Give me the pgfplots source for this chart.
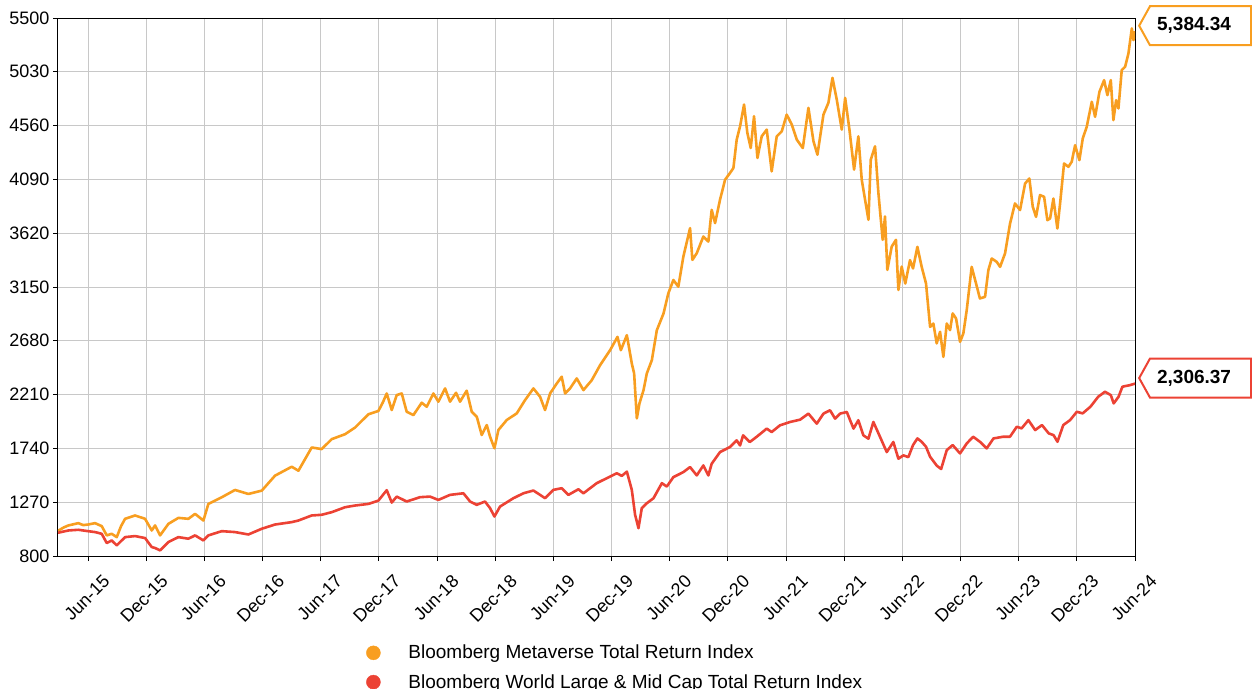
\documentclass[border=0pt]{standalone}
\usepackage{fontspec}
\setmainfont{Liberation Sans}
\usepackage{pgfplots}
\pgfplotsset{compat=1.18}
\usetikzlibrary{shapes.symbols}
\definecolor{mvorange}{RGB}{248,158,32}
\definecolor{wred}{RGB}{236,66,52}
\definecolor{gridc}{RGB}{200,200,200}
\begin{document}
\begin{tikzpicture}
\begin{axis}[
 at={(0pt,0pt)}, anchor=south west,
 scale only axis, width=1077pt, height=538pt,
 xmin=-3.1, xmax=108, ymin=800, ymax=5500,
 xtick={0,6,...,108},
 xticklabels={Jun-15,Dec-15,Jun-16,Dec-16,Jun-17,Dec-17,Jun-18,Dec-18,Jun-19,Dec-19,Jun-20,Dec-20,Jun-21,Dec-21,Jun-22,Dec-22,Jun-23,Dec-23,Jun-24},
 ytick={800,1270,1740,2210,2680,3150,3620,4090,4560,5030,5500},
 scaled y ticks=false,
 tick pos=left, tick align=outside, major tick length=5pt,
 tick style={black, line width=1pt},
 axis line style={black, line width=1pt},
 grid=major, major grid style={gridc, line width=1pt},
 ticklabel style={font=\fontsize{18}{21}\selectfont},
 /pgf/number format/assume math mode=true,
 yticklabel style={/pgf/number format/1000 sep={}},
 xticklabel style={xshift=14pt, yshift=-8pt, rotate=45, anchor=north east},
 clip mode=individual,
 legend style={at={(axis description cs:0,0)}, anchor=north west, xshift=308pt, yshift=-87pt, draw=none, fill=none, inner sep=0pt, font=\fontsize{19}{22}\selectfont, row sep=10pt},
 legend cell align=left,
]
\addplot[forget plot, mvorange, line width=2.6pt, line join=round] coordinates {
(-3.1,1020)(-2.5,1050)(-2.03,1067)(-1.0,1087)(-0.5,1070)(0,1075)(0.72,1087)(1.41,1061)(1.93,980)(2.44,994)(2.96,965)(3.4,1060)(3.82,1125)(4.85,1154)(5.88,1125)(6.57,1023)(6.91,1067)(7.43,980)(8.29,1081)(9.32,1133)(10.35,1125)(11.04,1168)(11.9,1110)(12.41,1255)(13.79,1313)(15.16,1377)(16.54,1342)(17.92,1371)(19.29,1502)(21.01,1580)(21.7,1545)(23.07,1748)(24.1,1734)(25.14,1821)(26.51,1864)(27.54,1922)(28.92,2038)(29.95,2067)(30.4,2140)(30.81,2220)(31.33,2075)(31.84,2206)(32.36,2220)(32.87,2060)(33.56,2031)(34.42,2139)(34.94,2104)(35.62,2220)(36.14,2148)(36.83,2264)(37.34,2148)(37.96,2226)(38.37,2148)(39.06,2244)(39.58,2060)(40.1,2017)(40.61,1857)(41.13,1944)(41.47,1842)(41.92,1741)(42.33,1901)(43.19,1988)(44.22,2046)(45.08,2162)(45.94,2264)(46.63,2191)(47.14,2075)(47.66,2220)(48.35,2307)(48.86,2366)(49.21,2220)(49.72,2264)(50.41,2351)(51.1,2249)(51.96,2336)(52.82,2467)(53.85,2598)(54.61,2714)(54.96,2598)(55.58,2729)(56.09,2482)(56.33,2395)(56.61,2002)(56.88,2133)(57.3,2249)(57.64,2395)(58.16,2511)(58.67,2772)(59.36,2918)(59.86,3095)(60.38,3211)(60.89,3153)(61.41,3416)(62.1,3664)(62.34,3387)(62.79,3445)(63.47,3591)(63.99,3547)(64.33,3824)(64.68,3708)(65.19,3912)(65.71,4087)(66.22,4146)(66.57,4189)(66.91,4437)(67.26,4554)(67.67,4744)(68.01,4496)(68.36,4364)(68.7,4642)(69.05,4277)(69.49,4466)(70.01,4525)(70.52,4160)(71.04,4466)(71.56,4510)(72.07,4656)(72.59,4569)(73.11,4437)(73.73,4364)(74.31,4715)(74.83,4423)(75.24,4306)(75.86,4656)(76.37,4759)(76.79,4977)(77.23,4788)(77.75,4525)(78.1,4802)(78.54,4525)(79.02,4175)(79.46,4466)(79.81,4087)(80.5,3737)(80.74,4262)(81.18,4379)(81.53,3970)(81.97,3562)(82.21,3766)(82.45,3299)(82.9,3503)(83.34,3562)(83.59,3124)(83.93,3328)(84.3,3180)(84.79,3385)(85.1,3312)(85.55,3501)(85.99,3327)(86.44,3181)(86.86,2802)(87.2,2831)(87.54,2657)(87.89,2759)(88.23,2540)(88.58,2831)(88.92,2773)(89.19,2919)(89.54,2875)(89.95,2671)(90.29,2744)(90.64,2948)(91.15,3326)(91.6,3181)(92.0,3050)(92.53,3064)(92.87,3297)(93.22,3399)(93.73,3370)(94.08,3326)(94.59,3443)(95.11,3705)(95.62,3880)(96.14,3822)(96.66,4054)(97.1,4098)(97.45,3851)(97.79,3763)(98.2,3953)(98.62,3938)(98.96,3734)(99.24,3749)(99.58,3923)(99.99,3661)(100.27,3880)(100.68,4229)(101.13,4200)(101.47,4244)(101.82,4389)(102.26,4258)(102.61,4448)(103.02,4550)(103.54,4768)(103.88,4637)(104.33,4855)(104.81,4957)(105.15,4826)(105.5,4957)(105.77,4608)(106.05,4782)(106.29,4710)(106.63,5045)(106.98,5074)(107.32,5190)(107.67,5409)(107.84,5307)(108,5384.34)
};
\addplot[forget plot, wred, line width=2.6pt, line join=round] coordinates {
(-3.1,1003)(-2.03,1023)(-1.0,1029)(0,1017)(0.72,1009)(1.41,994)(1.93,913)(2.44,936)(2.96,893)(3.82,965)(4.85,974)(5.88,957)(6.57,878)(6.91,870)(7.43,849)(8.29,922)(9.32,965)(10.35,951)(11.04,980)(11.9,936)(12.41,980)(13.79,1017)(15.16,1009)(16.54,988)(17.92,1038)(19.29,1075)(21.01,1096)(21.7,1110)(23.07,1154)(24.1,1160)(25.14,1183)(26.51,1226)(27.54,1241)(28.92,1255)(29.95,1284)(30.81,1375)(31.33,1267)(31.84,1319)(32.87,1276)(34.25,1314)(35.28,1319)(36.14,1290)(37.34,1334)(38.72,1348)(39.41,1276)(40.1,1247)(40.95,1276)(41.47,1218)(41.92,1145)(42.5,1232)(43.88,1305)(44.91,1348)(45.94,1372)(46.63,1334)(47.14,1305)(48.0,1378)(48.86,1392)(49.55,1334)(50.58,1383)(51.1,1348)(52.47,1436)(53.85,1494)(54.54,1523)(55.06,1500)(55.58,1537)(56.09,1378)(56.43,1160)(56.78,1043)(57.12,1218)(57.64,1261)(58.33,1305)(59.19,1436)(59.7,1407)(60.38,1489)(61.41,1533)(62.1,1577)(62.79,1504)(63.47,1591)(63.99,1504)(64.33,1606)(65.19,1708)(66.22,1752)(66.91,1810)(67.26,1766)(67.57,1854)(68.26,1796)(68.95,1840)(70.01,1913)(70.52,1883)(71.38,1942)(72.42,1971)(73.45,1991)(74.31,2044)(75.17,1956)(75.86,2044)(76.54,2073)(77.06,2000)(77.58,2044)(78.27,2058)(78.96,1913)(79.46,1986)(79.98,1854)(80.5,1825)(81.01,1971)(81.7,1840)(82.39,1708)(83.07,1796)(83.59,1650)(84.1,1679)(84.62,1664)(85.1,1769)(85.55,1827)(85.99,1798)(86.44,1754)(86.86,1667)(87.54,1590)(88.0,1560)(88.58,1725)(89.19,1769)(89.95,1696)(90.64,1783)(91.3,1842)(92.0,1798)(92.7,1740)(93.4,1827)(94.4,1842)(95.1,1842)(95.8,1929)(96.3,1915)(97.0,1987)(97.7,1900)(98.4,1944)(99.1,1871)(99.6,1856)(100.0,1798)(100.6,1944)(101.3,1987)(102.0,2060)(102.6,2046)(103.4,2104)(104.2,2191)(104.9,2235)(105.5,2206)(105.8,2133)(106.3,2191)(106.7,2279)(107.5,2293)(108,2306.37)
};
\addlegendimage{legend image code/.code={\fill[mvorange] (0pt,0pt) circle (7pt); \path[draw=none,fill=none] (-7pt,0pt) rectangle (33pt,0pt);}}
\addlegendentry{Bloomberg Metaverse Total Return Index}
\addlegendimage{legend image code/.code={\fill[wred] (0pt,0pt) circle (7pt); \path[draw=none,fill=none] (-7pt,0pt) rectangle (33pt,0pt);}}
\addlegendentry{Bloomberg World Large \& Mid Cap Total Return Index}
\node[signal, signal to=west, signal pointer angle=122, draw=mvorange, line width=2pt, fill=white, minimum width=112pt, minimum height=39pt, inner sep=0pt, font=\bfseries\fontsize{19}{22}\selectfont, anchor=west, xshift=3pt, yshift=5.5pt] at (axis cs:108,5384.34) {\hspace*{-13pt}5,384.34};
\node[signal, signal to=west, signal pointer angle=122, draw=wred, line width=2pt, fill=white, minimum width=112pt, minimum height=39pt, inner sep=0pt, font=\bfseries\fontsize{19}{22}\selectfont, anchor=west, xshift=3pt, yshift=5.5pt] at (axis cs:108,2306.37) {\hspace*{-13pt}2,306.37};
\end{axis}
\pgfresetboundingbox
\path[use as bounding box] (-58pt,-132pt) rectangle (1194pt,556pt);
\end{tikzpicture}
\end{document}
